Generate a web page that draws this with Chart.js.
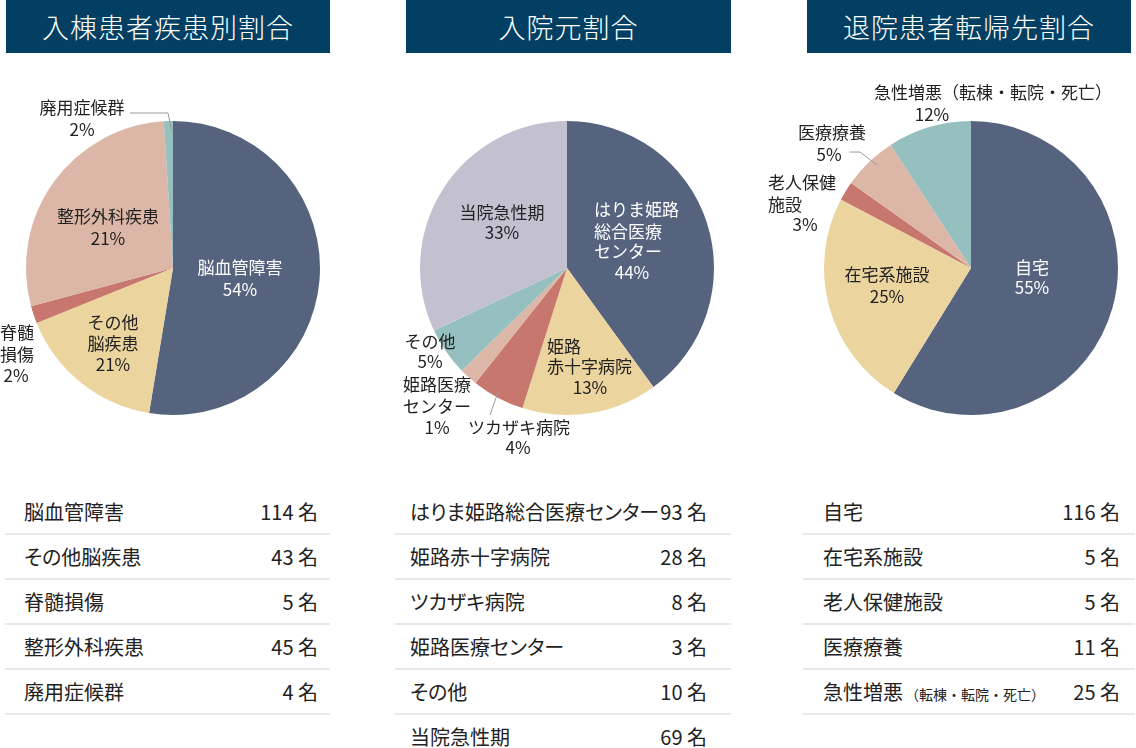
<!DOCTYPE html>
<html lang="ja">
<head>
<meta charset="utf-8">
<script src="https://cdn.jsdelivr.net/npm/chart.js@4"></script>
<style>
  html, body { margin: 0; padding: 0; background: #fff; }
  body { width: 1136px; height: 748px; position: relative; overflow: hidden;
         font-family: "Noto Sans CJK JP", "Noto Sans", sans-serif; color: #222; }
  .head { position: absolute; top: 0; height: 53px; line-height: 53px; background: #033f62;
          color: #fff; text-align: center; font-size: 27px; font-weight: 300; letter-spacing: 1px; }
  canvas { position: absolute; top: 60px; }
  .tbl { position: absolute; top: 490px; font-feature-settings: "palt"; }
  .row { height: 45px; box-sizing: border-box; border-bottom: 2px solid #e8e8e8;
         display: flex; justify-content: space-between; align-items: center; font-size: 20px; }
  .row small { font-size: 14px; font-feature-settings: normal; margin-left: 2px; }
</style>
</head>
<body>
<div class="head" style="left:6px;width:324px">入棟患者疾患別割合</div>
<div class="head" style="left:406px;width:325px">入院元割合</div>
<div class="head" style="left:807px;width:324px">退院患者転帰先割合</div>

<canvas id="c1" width="346" height="420" style="left:0px"></canvas>
<canvas id="c2" width="350" height="420" style="left:390px"></canvas>
<canvas id="c3" width="376" height="420" style="left:760px"></canvas>

<div class="tbl" id="t1" style="left:5px;width:325px"></div>
<div class="tbl" id="t2" style="left:395px;width:336px"></div>
<div class="tbl" id="t3" style="left:803px;width:332px"></div>

<script>
// ---- データ ----
// 入棟患者疾患別割合
const cats1 = ['脳血管障害', 'その他脳疾患', '脊髄損傷', '整形外科疾患', '廃用症候群'];
const counts1 = [114, 43, 5, 45, 4];
const slices1 = [52.6, 16.3, 1.9, 28.2, 1.0];   // 図の扇形の大きさ（%）
const pct1 = ['54%', '21%', '2%', '21%', '2%'];
const names1 = [['脳血管障害'], ['その他', '脳疾患'], ['脊髄', '損傷'], ['整形外科疾患'], ['廃用症候群']];

// 入院元割合
const cats2 = ['はりま姫路総合医療センター', '姫路赤十字病院', 'ツカザキ病院', '姫路医療センター', 'その他', '当院急性期'];
const counts2 = [93, 28, 8, 3, 10, 69];
const slices2 = [40.0, 14.9, 5.8, 2.0, 5.3, 32.0];
const pct2 = ['44%', '13%', '4%', '1%', '5%', '33%'];
const names2 = [['はりま姫路', '総合医療', 'センター'], ['姫路', '赤十字病院'], ['ツカザキ病院'], ['姫路医療', 'センター'], ['その他'], ['当院急性期']];

// 退院患者転帰先割合
const cats3 = ['自宅', '在宅系施設', '老人保健施設', '医療療養', '急性増悪'];
const notes3 = ['', '', '', '', '（転棟・転院・死亡）'];
const counts3 = [116, 5, 5, 11, 25];
const slices3 = [58.8, 23.9, 2.1, 6.0, 9.2];
const pct3 = ['55%', '25%', '3%', '5%', '12%'];
const names3 = [['自宅'], ['在宅系施設'], ['老人保健', '施設'], ['医療療養'], ['急性増悪（転棟・転院・死亡）']];

// ---- 色・ラベル配置 ----
const NAVY = '#56637f', BEIGE = '#ecd49e', RED = '#c7776d', PINK = '#dcb6a6', TEAL = '#96c0bf', LAV = '#c3c1cf';

// 各行の位置（円の中心からの dx, dy, 揃え）
const pos1 = [
  [[67, 0, 'center'], [67, 22, 'center']],
  [[-60, 55, 'center'], [-60, 76, 'center'], [-60, 97, 'center']],
  [[-173, 65, 'left'], [-173, 87, 'left'], [-157, 108, 'center']],
  [[-65, -51, 'center'], [-65, -29, 'center']],
  [[-91, -160, 'center'], [-91, -138, 'center']]
];
const pos2 = [
  [[27, -58, 'left'], [27, -36, 'left'], [27, -16, 'left'], [65, 5, 'center']],
  [[-20, 79, 'left'], [-20, 99, 'left'], [23, 120, 'center']],
  [[-48, 160, 'center'], [-49, 180, 'center']],
  [[-130, 117, 'center'], [-130, 139, 'center'], [-130, 160, 'center']],
  [[-137, 74, 'center'], [-137, 94, 'center']],
  [[-65, -55, 'center'], [-65, -35, 'center']]
];
const pos3 = [
  [[61, 0, 'center'], [61, 20, 'center']],
  [[-84, 7, 'center'], [-84, 29, 'center']],
  [[-203, -85, 'left'], [-203, -63, 'left'], [-166, -43, 'center']],
  [[-139, -135, 'center'], [-142, -113, 'center']],
  [[22, -175, 'center'], [-39, -153, 'center']]
];
// 引き出し線
const leaders1 = [[[-43, -155], [-5, -155], [-1, -136]]];
const leaders2 = [[[-69, 124], [-77, 147]]];
const leaders3 = [[[-121, -116], [-111, -116], [-94, -103]]];

// 扇形ラベルを描くプラグイン
const pieLabels = {
  id: 'pieLabels',
  afterDatasetsDraw(chart, args, opts) {
    const arc = chart.getDatasetMeta(0).data[0];
    const cx = arc.x, cy = arc.y;
    const ctx = chart.ctx;
    ctx.save();
    ctx.strokeStyle = '#9a9a9a';
    ctx.lineWidth = 1;
    opts.leaders.forEach(pts => {
      ctx.beginPath();
      pts.forEach((p, i) => i ? ctx.lineTo(cx + p[0], cy + p[1]) : ctx.moveTo(cx + p[0], cy + p[1]));
      ctx.stroke();
    });
    ctx.font = '17px "Noto Sans CJK JP"';
    ctx.textBaseline = 'middle';
    opts.names.forEach((nm, i) => {
      const lines = nm.concat(opts.pct[i]);
      ctx.fillStyle = i === 0 ? '#ffffff' : '#222222';
      lines.forEach((t, j) => {
        const p = opts.pos[i][j];
        ctx.textAlign = p[2];
        ctx.fillText(t, cx + p[0], cy + p[1]);
      });
    });
    ctx.restore();
  }
};

function makePie(id, labels, values, colors, names, pct, pos, leaders, padL, padR) {
  new Chart(document.getElementById(id), {
    type: 'pie',
    data: {
      labels: labels,
      datasets: [{ data: values, backgroundColor: colors, borderWidth: 0 }]
    },
    options: {
      responsive: false,
      animation: false,
      layout: { padding: { left: padL, right: padR, top: 61, bottom: 65 } },
      plugins: {
        legend: { display: false },
        tooltip: { enabled: false },
        pieLabels: { names: names, pct: pct, pos: pos, leaders: leaders }
      }
    },
    plugins: [pieLabels]
  });
}

makePie('c1', cats1, slices1, [NAVY, BEIGE, RED, PINK, TEAL], names1, pct1, pos1, leaders1, 26, 26);
makePie('c2', cats2, slices2, [NAVY, BEIGE, RED, PINK, TEAL, LAV], names2, pct2, pos2, leaders2, 30, 26);
makePie('c3', cats3, slices3, [NAVY, BEIGE, RED, PINK, TEAL], names3, pct3, pos3, leaders3, 64, 18);

// 表
function makeTable(id, cats, counts, padL, padR, notes) {
  const el = document.getElementById(id);
  cats.forEach((c, i) => {
    const row = document.createElement('div');
    row.className = 'row';
    row.style.padding = '0 ' + padR + 'px 0 ' + padL + 'px';
    const a = document.createElement('span');
    a.textContent = c;
    if (notes && notes[i]) {
      const s = document.createElement('small');
      s.textContent = notes[i];
      a.appendChild(s);
    }
    const b = document.createElement('span');
    b.textContent = counts[i] + ' 名';
    row.appendChild(a);
    row.appendChild(b);
    el.appendChild(row);
  });
}
makeTable('t1', cats1, counts1, 19, 12);
makeTable('t2', cats2, counts2, 15, 24);
makeTable('t3', cats3, counts3, 20, 15, notes3);
</script>
</body>
</html>
